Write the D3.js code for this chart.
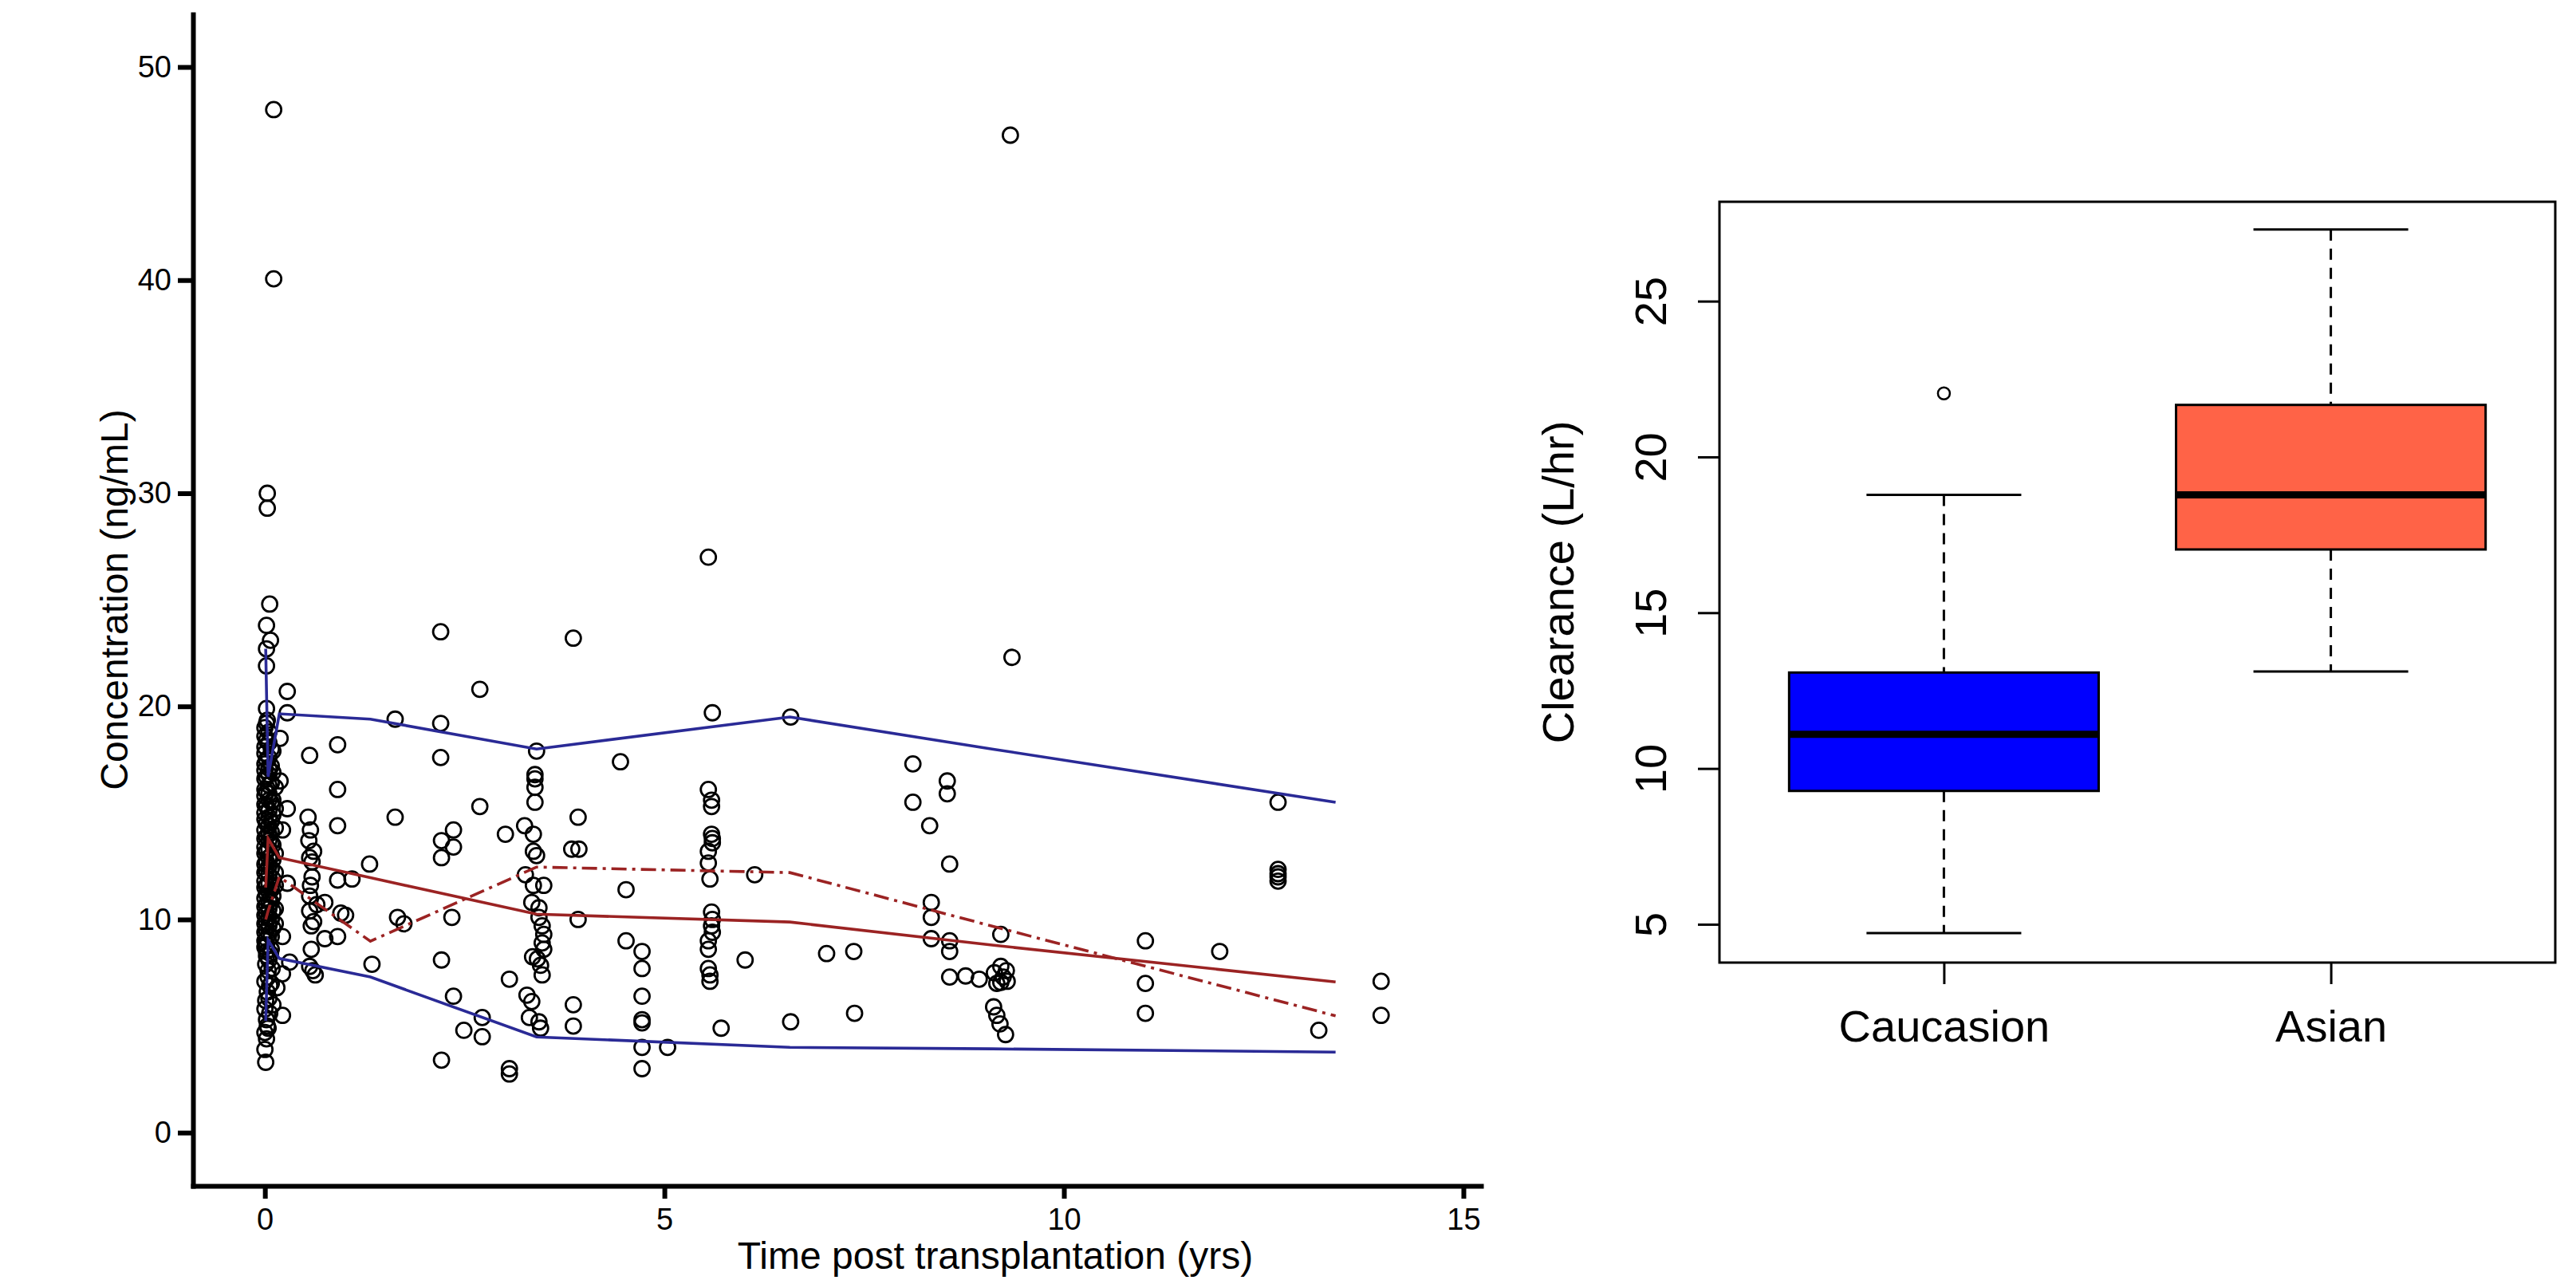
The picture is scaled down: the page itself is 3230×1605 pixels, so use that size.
<!DOCTYPE html>
<html>
<head>
<meta charset="utf-8">
<script src="https://cdn.jsdelivr.net/npm/d3@7"></script>
<style>
  body { margin: 0; background: #fff; }
  text { font-family: "Liberation Sans", Arial, sans-serif; fill: #000; }
</style>
</head>
<body>
<div id="chart"></div>
<script>
// observed concentrations: time post transplantation (yrs) and concentration (ng/mL)
let obsTime = [
  0.11, 0.11, 0.03, 0.03, 0.06, 0.02, 0.07, 0.02, 0.02, 0.02, 0.03,
  0, 0, 0, 0, 0, 0, 0, 0, 0, 0, 0, 0, 0, 0, 0, 0, 0, 0, 0, 0, 0, 0, 0, 0, 0, 0,
  0.05, 0.05, 0.05, 0.05, 0.05, 0.05, 0.05, 0.05, 0.05, 0.05, 0.05, 0.05,
  0.05, 0.05, 0.05, 0.05, 0.05, 0.05, 0.05, 0.05, 0.05, 0.05, 0.05, 0.05,
  0.1, 0.1, 0.1, 0.1, 0.1, 0.1, 0.1, 0.1, 0.1, 0.1,
  0.02, 0.02, 0.02, 0.02, 0.02, 0.02, 0.02, 0.02, 0.02, 0.02,
  0.02, 0.02, 0.02, 0.02, 0.02, 0.02, 0.02, 0.02, 0.02, 0.02,
  0.08, 0.08, 0.08, 0.08, 0.08, 0.08, 0.08, 0.08, 0.08, 0.08, 0.08, 0.08, 0.08, 0.08,
  0.13, 0.13, 0.13, 0.13, 0.13, 0.13, 0.13, 0.13,
  0.0, 0.02, 0.01, 0.04, 0.0, 0.03, 0.01, 0.0, 0.02, 0.03, 0.0, 0.02, 0.0, 0.01, 0.07, 0.08,
  0.05, 0.04, 0.06, 0.05, 0.09, 0.06, 0.04, 0.1,
  0.28, 0.28, 0.19, 0.19, 0.28, 0.22, 0.28, 0.22, 0.31, 0.22, 0.15, 0.22,
  0.56, 0.91, 0.91, 0.91, 0.54, 0.57, 0.55, 0.61, 0.56, 0.59, 0.59, 0.57, 0.56, 0.65,
  0.75, 0.56, 0.61, 0.58, 0.75, 0.58, 0.56, 0.6, 0.63, 0.91, 1.09, 0.95, 1.01, 0.91,
  1.31, 1.34, 1.63, 1.63, 1.66, 1.74, 2.2, 2.2, 2.2, 2.69, 2.69, 2.36, 2.21,
  2.36, 2.21, 2.34, 2.21, 3.01, 3.06, 2.36, 2.72, 2.49, 2.72, 2.21, 3.06, 3.06,
  3.4, 3.38, 3.38, 3.38, 3.38, 3.36, 3.25, 3.36, 3.4, 3.36, 3.49, 3.34, 3.43, 3.43,
  3.47, 3.49, 3.47, 3.49, 3.41, 3.35, 3.45, 3.47, 3.28, 3.34, 3.31, 3.43, 3.45, 3.26,
  3.86, 4.45, 3.92, 3.84, 3.93, 4.52, 3.92, 4.52, 4.72, 4.72, 4.72, 4.72, 4.72, 4.72, 4.72, 5.04, 3.86, 3.86,
  5.55, 5.6, 5.55, 5.59, 5.59, 5.59, 5.6, 5.6, 5.55, 5.55, 5.57, 5.59, 5.6, 5.59, 5.6, 5.55, 5.55, 5.55, 5.57, 5.57, 5.71,
  6.13, 6.01, 6.58, 6.58, 7.03, 7.37, 7.38,
  8.11, 8.11, 8.54, 8.54, 8.32, 8.57, 8.34, 8.34, 8.34, 8.57, 8.57, 8.57, 8.77, 8.94,
  9.33, 9.35, 9.21, 9.21, 9.13, 9.24, 9.28, 9.29, 9.16, 9.21, 9.12, 9.16, 9.2, 9.27,
  11.02, 11.02, 11.02, 11.95, 12.68, 12.68, 12.68, 12.68, 12.68, 13.19, 13.97, 13.97
];
let obsConc = [
  48.0, 40.06, 30.0, 29.3, 24.8, 23.8, 23.1, 22.7, 21.9, 19.9, 19.35,
  19.0, 18.6, 18.1, 17.8, 17.3, 17.0, 16.6, 16.1, 15.8, 15.4, 15.0, 14.7, 14.2,
  13.8, 13.4, 13.1, 12.6, 12.2, 11.8, 11.5, 11.0, 10.6, 10.2, 9.8, 9.4, 9.0,
  18.8, 18.3, 17.6, 17.1, 16.8, 16.3, 15.9, 15.6, 15.1, 14.8, 14.4, 14.0,
  13.7, 13.3, 12.9, 12.5, 12.1, 11.7, 11.3, 10.9, 10.5, 10.1, 9.7, 9.3,
  17.9, 16.9, 15.6, 14.9, 13.5, 12.8, 11.9, 11.1, 10.4, 9.6,
  19.2, 18.4, 17.5, 16.7, 16.0, 15.3, 14.5, 13.9, 13.2, 12.7,
  12.3, 11.6, 11.2, 10.7, 10.3, 9.9, 9.5, 9.1, 8.8, 8.5,
  18.0, 17.2, 16.4, 15.5, 14.6, 14.1, 13.6, 13.0, 12.4, 11.4, 10.8, 10.0, 9.2, 8.6,
  16.2, 15.2, 14.3, 13.1, 12.2, 11.6, 10.5, 9.8,
  8.7, 8.3, 7.9, 7.6, 7.1, 6.6, 6.2, 5.8, 5.3, 5.0, 4.7, 4.4, 3.9, 3.3, 8.4, 7.0,
  8.1, 7.3, 6.9, 6.3, 7.7, 5.6, 4.9, 6.0,
  20.7, 19.7, 18.5, 16.5, 15.2, 14.2, 11.7, 9.2, 8.0, 7.45, 6.8, 5.5,
  17.7, 18.2, 16.1, 14.4, 14.8, 14.2, 13.7, 13.2, 12.9, 12.7, 12.0, 11.6, 11.1, 10.7,
  10.8, 10.4, 9.9, 9.7, 9.1, 8.6, 7.8, 7.6, 7.4, 11.85, 11.9, 10.3, 10.2, 9.2,
  12.6, 7.9, 19.4, 14.8, 10.1, 9.8, 23.5, 19.2, 17.6, 20.8, 15.3, 14.2, 13.7,
  13.4, 12.9, 10.1, 8.1, 14.0, 7.2, 6.4, 5.4, 4.8, 4.5, 3.4, 3.0, 2.75,
  17.9, 16.8, 16.6, 16.2, 15.5, 14.0, 14.4, 13.2, 13.0, 11.6, 11.6, 10.8, 10.55, 10.1,
  9.7, 9.3, 8.9, 8.6, 8.15, 8.25, 7.85, 7.4, 6.45, 6.15, 5.4, 5.2, 4.9, 12.1,
  23.2, 17.4, 14.8, 13.3, 13.3, 11.4, 10.0, 9.0, 8.5, 7.7, 6.4, 5.3, 5.15, 4.0, 3.0, 4.0, 6.0, 5.0,
  27.0, 19.7, 16.1, 15.6, 15.3, 14.0, 13.8, 13.6, 13.2, 12.65, 11.9, 10.35, 10.0, 9.7, 9.4, 9.0, 8.6, 7.7, 7.4, 7.1, 4.9,
  12.1, 8.1, 19.5, 5.2, 8.4, 8.5, 5.6,
  17.3, 15.5, 16.5, 15.9, 14.4, 12.6, 10.8, 10.1, 9.1, 9.0, 8.5, 7.3, 7.35, 7.2,
  46.8, 22.3, 9.3, 7.8, 7.5, 7.3, 7.6, 7.1, 7.0, 7.05, 5.9, 5.5, 5.1, 4.6,
  9.0, 7.0, 5.6, 8.5, 15.5, 12.35, 12.15, 12.0, 11.8, 4.8, 7.1, 5.5
];

// binned percentile lines
let binTime   = [0.01, 0.04, 0.18, 1.32, 3.4, 6.57, 9.1, 13.4];
let upper95   = [22.7, 16.7, 19.65, 19.4, 18.0, 19.5, 18.0, 15.5];
let lower5    = [5.24, 9.04, 8.17, 7.3, 4.49, 4.0, 3.93, 3.78];
let medianObs = [11.5, 13.8, 12.9, 11.96, 10.25, 9.88, 8.8, 7.07];
let medianPre = [10.0, 10.4, 12.0, 8.98, 12.46, 12.2, 9.69, 5.48];

let concTicks = [0, 10, 20, 30, 40, 50];
let timeTicks = [0, 5, 10, 15];

// clearance boxplot stats
let groups      = ["Caucasion", "Asian"];
let boxColors   = ["#0000FF", "#FF6347"];
let whiskerLow  = [4.72, 13.11];
let quart1      = [9.28, 17.03];
let medians     = [11.1, 18.78];
let quart3      = [13.08, 21.67];
let whiskerHigh = [18.78, 27.3];
let outliers    = [[22.04], []];
let clTicks     = [5, 10, 15, 20, 25];

let width = 3230, height = 1605;

let svg = d3.select('#chart')
    .append('svg')
    .attr('width', width)
    .attr('height', height)
    .style('display', 'block');

svg.append('rect').attr('width', width).attr('height', height).attr('fill', '#fff');

//---------- left panel: concentration vs time ----------
let x = d3.scaleLinear().domain([-0.9, 15.22]).range([242, 1857]);
let y = d3.scaleLinear().domain([-2.5, 52.47]).range([1487, 18]);

let left = svg.append('g');

let yAxis = left.append('g')
    .attr('transform', 'translate(242,0)')
    .call(d3.axisLeft(y).tickValues(concTicks).tickSize(19).tickSizeOuter(0).tickPadding(8));
let xAxis = left.append('g')
    .attr('transform', 'translate(0,1487)')
    .call(d3.axisBottom(x).tickValues(timeTicks).tickSize(16).tickSizeOuter(0).tickPadding(12));

[yAxis, xAxis].forEach(function (ax) {
    ax.select('.domain').attr('stroke', '#000').attr('stroke-width', 6).attr('stroke-linecap', 'square');
    ax.selectAll('.tick line').attr('stroke', '#000').attr('stroke-width', 6);
    ax.selectAll('.tick text').attr('font-size', 38).attr('font-family', '"Liberation Sans", Arial, sans-serif').attr('fill', '#000');
});

// points
left.append('g')
    .selectAll('circle')
    .data(d3.range(obsTime.length))
    .join('circle')
    .attr('cx', i => x(obsTime[i]))
    .attr('cy', i => y(obsConc[i]))
    .attr('r', 9.5)
    .attr('fill', 'none')
    .attr('stroke', '#000')
    .attr('stroke-width', 2.8);

// lines
let lineGen = function (vals) {
    return d3.line()
        .x((d, i) => x(binTime[i]))
        .y(d => y(d))(vals);
};
let lines = [
    { vals: upper95, color: '#2a2a96', dash: null },
    { vals: lower5, color: '#2a2a96', dash: null },
    { vals: medianObs, color: '#9b2323', dash: null },
    { vals: medianPre, color: '#9b2323', dash: '19,7,4,7' }
];
left.append('g')
    .selectAll('path')
    .data(lines)
    .join('path')
    .attr('d', d => lineGen(d.vals))
    .attr('fill', 'none')
    .attr('stroke', d => d.color)
    .attr('stroke-width', 3.6)
    .attr('stroke-dasharray', d => d.dash);

left.append('text')
    .attr('x', 1248)
    .attr('y', 1591)
    .attr('text-anchor', 'middle')
    .attr('font-size', 48)
    .text('Time post transplantation (yrs)');

left.append('text')
    .attr('transform', 'translate(160,752) rotate(-90)')
    .attr('text-anchor', 'middle')
    .attr('font-size', 48)
    .text('Concentration (ng/mL)');

//---------- right panel: clearance boxplot ----------
let bx = d3.scalePoint().domain(groups).range([2156, 3204]).padding(0.58);
let by = d3.scaleLinear().domain([3.77, 28.19]).range([1207, 253]);
let boxW = bx.step() * 0.8;

let right = svg.append('g');

let byAxis = right.append('g')
    .attr('transform', 'translate(2156,0)')
    .call(d3.axisLeft(by).tickValues(clTicks).tickSize(27).tickSizeOuter(0));
byAxis.select('.domain').remove();
byAxis.selectAll('.tick line').attr('stroke', '#000').attr('stroke-width', 3);
byAxis.selectAll('.tick text')
    .attr('x', null).attr('dy', null)
    .attr('transform', 'translate(-67,0) rotate(-90)')
    .attr('text-anchor', 'middle')
    .attr('font-size', 56)
    .attr('font-family', '"Liberation Sans", Arial, sans-serif')
    .attr('fill', '#000');

let bxAxis = right.append('g')
    .attr('transform', 'translate(0,1207)')
    .call(d3.axisBottom(bx).tickSize(27).tickSizeOuter(0).tickPadding(32));
bxAxis.select('.domain').remove();
bxAxis.selectAll('.tick line').attr('stroke', '#000').attr('stroke-width', 3);
bxAxis.selectAll('.tick text')
    .attr('font-size', 56)
    .attr('font-family', '"Liberation Sans", Arial, sans-serif')
    .attr('fill', '#000');

let box = right.selectAll('.box')
    .data(groups)
    .join('g')
    .attr('class', 'box');

// whiskers (dashed)
box.append('line')
    .attr('x1', d => bx(d)).attr('x2', d => bx(d))
    .attr('y1', (d, i) => by(whiskerHigh[i])).attr('y2', (d, i) => by(quart3[i]))
    .attr('stroke', '#000').attr('stroke-width', 3).attr('stroke-dasharray', '14,10');
box.append('line')
    .attr('x1', d => bx(d)).attr('x2', d => bx(d))
    .attr('y1', (d, i) => by(quart1[i])).attr('y2', (d, i) => by(whiskerLow[i]))
    .attr('stroke', '#000').attr('stroke-width', 3).attr('stroke-dasharray', '14,10');
// staples
[whiskerHigh, whiskerLow].forEach(function (arr) {
    box.append('line')
        .attr('x1', d => bx(d) - boxW / 4).attr('x2', d => bx(d) + boxW / 4)
        .attr('y1', (d, i) => by(arr[i])).attr('y2', (d, i) => by(arr[i]))
        .attr('stroke', '#000').attr('stroke-width', 3);
});
// boxes
box.append('rect')
    .attr('x', d => bx(d) - boxW / 2)
    .attr('width', boxW)
    .attr('y', (d, i) => by(quart3[i]))
    .attr('height', (d, i) => by(quart1[i]) - by(quart3[i]))
    .attr('fill', (d, i) => boxColors[i])
    .attr('stroke', '#000')
    .attr('stroke-width', 3);
// medians
box.append('line')
    .attr('x1', d => bx(d) - boxW / 2).attr('x2', d => bx(d) + boxW / 2)
    .attr('y1', (d, i) => by(medians[i])).attr('y2', (d, i) => by(medians[i]))
    .attr('stroke', '#000').attr('stroke-width', 9);
// outliers
box.selectAll('circle')
    .data((d, i) => outliers[i].map(v => ({ g: d, v: v })))
    .join('circle')
    .attr('cx', d => bx(d.g))
    .attr('cy', d => by(d.v))
    .attr('r', 7.5)
    .attr('fill', 'none')
    .attr('stroke', '#000')
    .attr('stroke-width', 2.5);

// frame
right.append('rect')
    .attr('x', 2156).attr('y', 253)
    .attr('width', 3204 - 2156).attr('height', 1207 - 253)
    .attr('fill', 'none')
    .attr('stroke', '#000')
    .attr('stroke-width', 3);

right.append('text')
    .attr('transform', 'translate(1973,730) rotate(-90)')
    .attr('text-anchor', 'middle')
    .attr('font-size', 56)
    .text('Clearance (L/hr)');
</script>
</body>
</html>
